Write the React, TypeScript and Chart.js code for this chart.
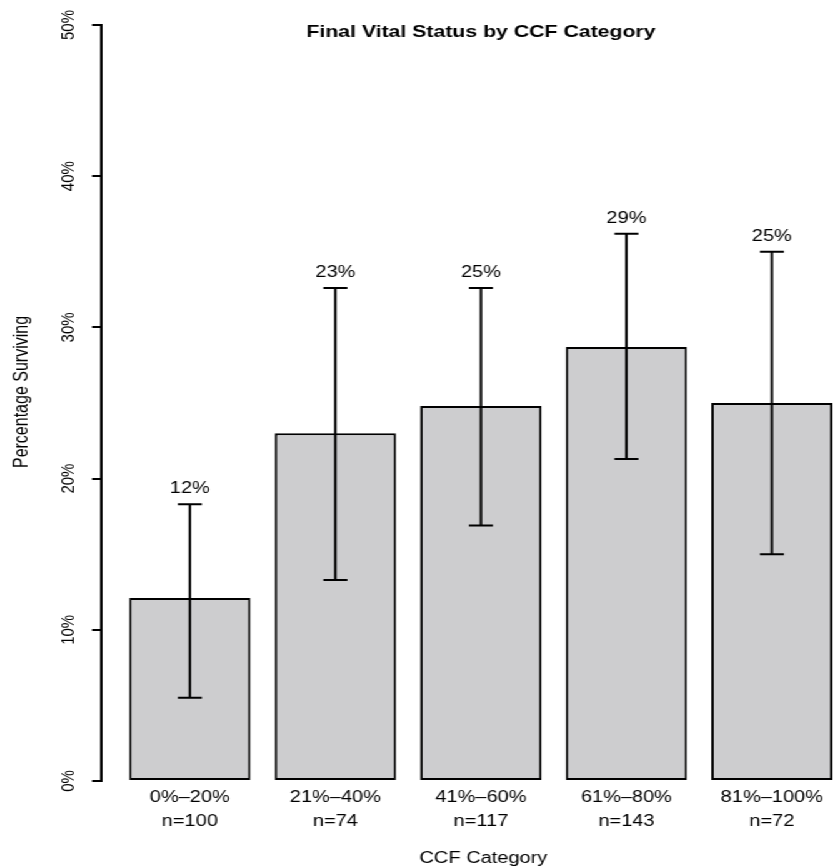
import React, { useEffect, useRef } from 'react';
import { Chart, registerables } from 'chart.js';

Chart.register(...registerables);

// ---- data ----
const categories = ['0%–20%', '21%–40%', '41%–60%', '61%–80%', '81%–100%'];
const counts = [100, 74, 117, 143, 72];
const percentSurviving = [12.1, 23.0, 24.8, 28.7, 25.0];
const lowerCI = [5.5, 13.3, 16.9, 21.3, 15.0];
const upperCI = [18.3, 32.6, 32.6, 36.2, 35.0];
const yTicks = [0, 10, 20, 30, 40, 50];

const chartTitle = 'Final Vital Status by CCF Category';
const xTitle = 'CCF Category';
const yTitle = 'Percentage Surviving';

// ---- layout (R barplot style: width 1, space 0.2) ----
const STRETCH = 1.25;
const W = 668;
const H = 867;
const FONT = '"Liberation Sans", Arial, Helvetica, sans-serif';
const barCenter = (i: number) => 0.7 + 1.2 * i;
const X_MIN = -0.032;
const X_MAX = 6.02;
const X_MID = 3.1;

const annotate = {
  id: 'annotate',
  afterDraw(chart: any) {
    const { ctx, scales, chartArea } = chart;
    const x = scales.x;
    const y = scales.y;
    const meta = chart.getDatasetMeta(0);
    ctx.save();
    ctx.strokeStyle = '#000';
    ctx.fillStyle = '#000';
    ctx.lineWidth = 2;
    const cap = 9.6;
    meta.data.forEach((bar: any, i: number) => {
      const cx = bar.x;
      const yl = y.getPixelForValue(lowerCI[i]);
      const yu = y.getPixelForValue(upperCI[i]);
      ctx.beginPath();
      ctx.moveTo(cx, yl);
      ctx.lineTo(cx, yu);
      ctx.moveTo(cx - cap, yu);
      ctx.lineTo(cx + cap, yu);
      ctx.moveTo(cx - cap, yl);
      ctx.lineTo(cx + cap, yl);
      ctx.stroke();
      ctx.font = `16px ${FONT}`;
      ctx.textAlign = 'center';
      ctx.textBaseline = 'middle';
      ctx.fillText(`${Math.round(percentSurviving[i])}%`, cx, yu - 15.5);
    });

    // y tick labels (rotated, R style)
    ctx.font = `15px ${FONT}`;
    ctx.textAlign = 'center';
    ctx.textBaseline = 'middle';
    yTicks.forEach((v) => {
      const py = y.getPixelForValue(v);
      ctx.save();
      ctx.translate(chartArea.left - 26.4, py);
      ctx.rotate(-Math.PI / 2);
      ctx.fillText(`${v}%`, 0, 0);
      ctx.restore();
    });

    // y axis title
    ctx.font = `16px ${FONT}`;
    ctx.save();
    ctx.translate(17.6, 392);
    ctx.rotate(-Math.PI / 2);
    ctx.fillText(yTitle, 0, 0);
    ctx.restore();

    // x axis title
    const mid = x.getPixelForValue(X_MID);
    ctx.fillText(xTitle, mid + 2, 859);

    // main title
    ctx.font = `bold 17px ${FONT}`;
    ctx.fillText(chartTitle, mid, 32);
    ctx.restore();
  },
};

export default function App() {
  const ref = useRef<HTMLCanvasElement | null>(null);
  useEffect(() => {
    if (!ref.current) return;
    const chart = new Chart(ref.current, {
      type: 'bar',
      data: {
        datasets: [
          {
            data: categories.map((_, i) => ({ x: barCenter(i), y: percentSurviving[i] })),
            backgroundColor: '#cdcdcf',
            borderColor: '#000',
            borderWidth: 2,
            borderSkipped: false,
            categoryPercentage: 1,
            barPercentage: 1 / 1.2,
          } as any,
        ],
      },
      options: {
        responsive: false,
        animation: false,
        devicePixelRatio: 1,
        events: [],
        layout: { padding: { left: 73.6, right: 0, top: 25, bottom: 26 } },
        plugins: {
          legend: { display: false },
          tooltip: { enabled: false },
          title: { display: false },
        },
        scales: {
          x: {
            type: 'linear',
            min: X_MIN,
            max: X_MAX,
            offset: false,
            afterBuildTicks: (s: any) => {
              s.ticks = categories.map((_, i) => ({ value: barCenter(i) }));
            },
            afterFit: (s: any) => {
              s.height = 60;
              s.paddingLeft = 0;
              s.paddingRight = 0;
            },
            grid: { display: false, drawTicks: false, offset: false },
            border: { display: false },
            ticks: {
              autoSkip: false,
              maxRotation: 0,
              minRotation: 0,
              padding: 5,
              color: '#000',
              font: { family: FONT, size: 16, lineHeight: 1.5 },
              callback: (_v: any, i: number) => [categories[i], `n=${counts[i]}`],
            },
          },
          y: {
            type: 'linear',
            min: 0,
            max: 50,
            afterBuildTicks: (s: any) => {
              s.ticks = yTicks.map((v) => ({ value: v }));
            },
            afterFit: (s: any) => {
              s.width = 7.2;
            },
            ticks: { display: false },
            grid: {
              display: true,
              drawOnChartArea: false,
              drawTicks: true,
              tickLength: 7.2,
              color: '#000',
              lineWidth: 2,
            },
            border: { display: true, color: '#000', width: 2 },
          },
        } as any,
      },
      plugins: [annotate],
    });
    return () => chart.destroy();
  }, []);

  return (
    <div
      style={{
        position: 'absolute',
        left: 0,
        top: 0,
        width: W,
        height: H,
        background: '#fff',
        transform: `scaleX(${STRETCH})`,
        transformOrigin: '0 0',
      }}
    >
      <canvas ref={ref} width={W} height={H} style={{ display: 'block' }} />
    </div>
  );
}
